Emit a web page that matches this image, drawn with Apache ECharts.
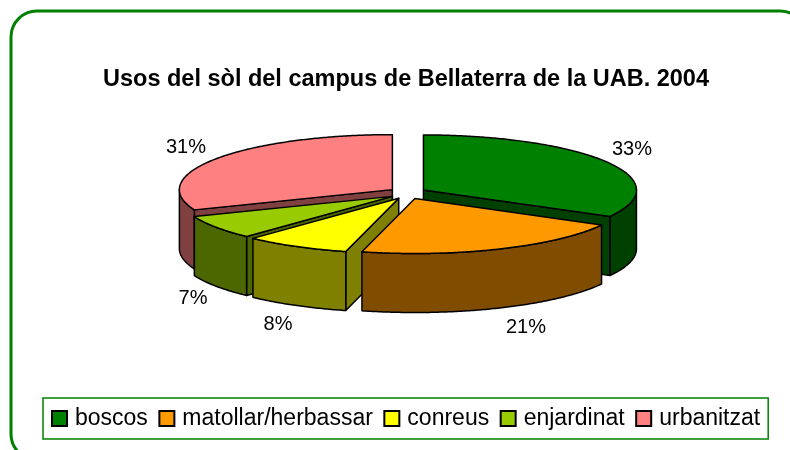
<!DOCTYPE html>
<html>
<head>
<meta charset="utf-8">
<style>
  html, body { margin: 0; padding: 0; background: #fff; }
  #chart { width: 790px; height: 450px; }
</style>
<script src="https://cdn.jsdelivr.net/npm/echarts@6/dist/echarts.min.js"></script>
</head>
<body>
<div id="chart"></div>
<script>
const categories = ['boscos', 'matollar/herbassar', 'conreus', 'enjardinat', 'urbanitzat']
const values = [33, 21, 8, 7, 31]
const titleText = 'Usos del sòl del campus de Bellaterra de la UAB. 2004'

const colors = ['#008000', '#FF9900', '#FFFF00', '#99CC00', '#FF8080']
const sideColors = ['#004000', '#804C00', '#808000', '#4C6600', '#804040']
// painter's order, back slices first
const drawOrder = [0, 4, 3, 2, 1]
const labelPos = [[632, 149], [526, 327], [278, 324], [193, 298], [186, 147]]

// pie projection
const cx = 407.6
const cy = 193
const rx = 213
const ry = 55
const depth = 59
const explodeX = 18.4
const explodeY = 6

const total = values.reduce((a, b) => a + b, 0)
const toRad = v => v / total * Math.PI * 2

function rim (ox, oy, a, down) {
  return [ox + rx * Math.sin(a), oy - ry * Math.cos(a) + (down || 0)]
}

function arcPoints (ox, oy, from, to, down) {
  const n = Math.max(2, Math.ceil((to - from) / 0.01))
  const pts = []
  for (let i = 0; i <= n; i++) {
    pts.push(rim(ox, oy, from + (to - from) * i / n, down))
  }
  return pts
}

function sliceItem (idx, api) {
  const start = toRad(values.slice(0, idx).reduce((a, b) => a + b, 0))
  const end = start + toRad(api.value(0))
  const mid = (start + end) / 2
  const ox = cx + explodeX * Math.sin(mid)
  const oy = cy - explodeY * Math.cos(mid)
  const line = { stroke: '#000', lineWidth: 1.5, lineJoin: 'round' }
  const children = []
  const wall = points => ({
    type: 'polygon',
    shape: { points },
    style: Object.assign({ fill: sideColors[idx] }, line)
  })

  // radial walls only where they face the viewer
  if (Math.sin(start) < -1e-6) {
    children.push(wall([[ox, oy], rim(ox, oy, start), rim(ox, oy, start, depth), [ox, oy + depth]]))
  }
  if (Math.sin(end) > 1e-6) {
    children.push(wall([[ox, oy], rim(ox, oy, end), rim(ox, oy, end, depth), [ox, oy + depth]]))
  }
  // outer wall, front half of the rim only
  const from = Math.max(start, Math.PI / 2)
  const to = Math.min(end, Math.PI * 1.5)
  if (to > from) {
    children.push(wall(arcPoints(ox, oy, from, to).concat(arcPoints(ox, oy, from, to, depth).reverse())))
  }
  // top face
  children.push({
    type: 'polygon',
    shape: { points: [[ox, oy]].concat(arcPoints(ox, oy, start, end)) },
    style: Object.assign({ fill: colors[idx] }, line)
  })
  children.push({
    type: 'text',
    style: {
      text: Math.round(api.value(0) / total * 100) + '%',
      x: labelPos[idx][0],
      y: labelPos[idx][1],
      fill: '#000',
      font: '20px "Liberation Sans", Arial, sans-serif',
      align: 'center',
      verticalAlign: 'middle'
    }
  })
  return { type: 'group', children }
}

const chart = echarts.init(document.getElementById('chart'), null, { renderer: 'canvas' })

chart.setOption({
  animation: false,
  backgroundColor: '#fff',
  title: {
    text: titleText,
    left: 401,
    top: 63,
    textAlign: 'center',
    textStyle: { fontFamily: '"Liberation Sans", Arial, sans-serif', fontSize: 23.5, fontWeight: 'bold', color: '#000' }
  },
  legend: {
    data: categories,
    left: 43,
    top: 398,
    orient: 'horizontal',
    icon: 'rect',
    itemWidth: 15,
    itemHeight: 15,
    itemGap: 10.5,
    padding: [9, 8, 9, 8],
    borderColor: '#008000',
    borderWidth: 1.5,
    selectedMode: false,
    textStyle: { fontFamily: '"Liberation Sans", Arial, sans-serif', fontSize: 23, color: '#000', padding: [0, 0, 0, 3] }
  },
  graphic: [{
    type: 'rect',
    silent: true,
    shape: { x: 11, y: 11, width: 795, height: 449, r: 26 },
    style: { fill: 'none', stroke: '#008000', lineWidth: 3 }
  }],
  series: categories.map((name, i) => ({
    type: 'custom',
    name,
    coordinateSystem: 'none',
    silent: true,
    z: 2 + drawOrder.indexOf(i),
    itemStyle: { color: colors[i], borderColor: '#000', borderWidth: 1.5 },
    data: [[values[i]]],
    renderItem: (params, api) => sliceItem(i, api)
  }))
})
</script>
</body>
</html>
